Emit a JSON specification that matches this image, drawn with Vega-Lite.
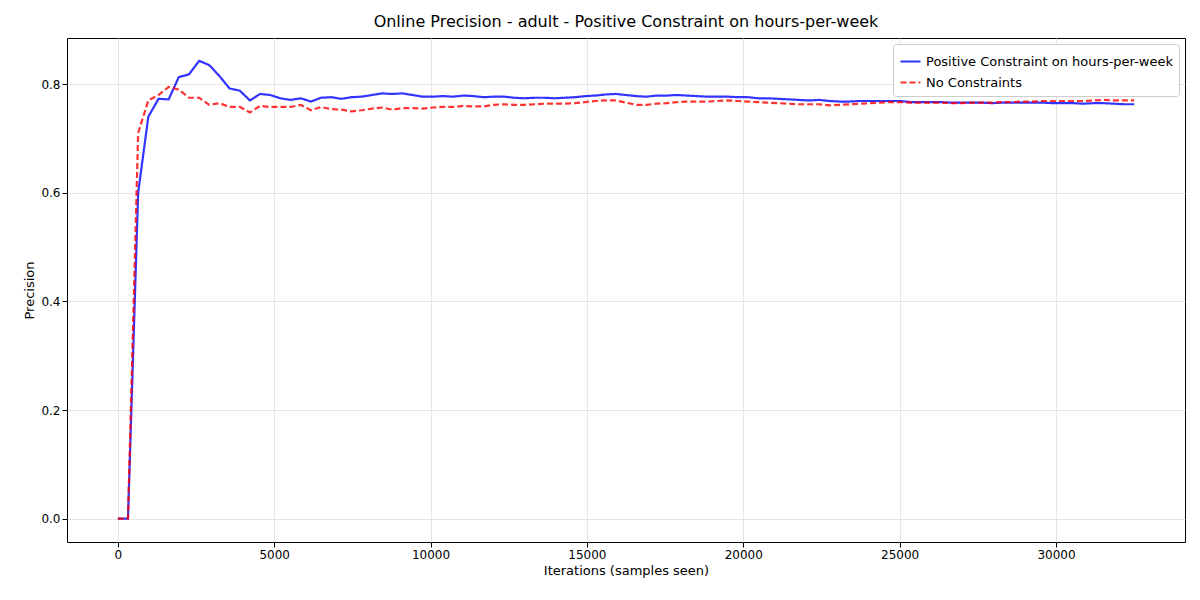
{
  "$schema": "https://vega.github.io/schema/vega-lite/v6.json",
  "autosize": "none",
  "padding": {"left": 67, "top": 38, "right": 15, "bottom": 58},
  "width": 1118,
  "height": 504,
  "title": {"text": "Online Precision - adult - Positive Constraint on hours-per-week", "fontSize": 16, "fontWeight": "normal", "font": "DejaVu Sans", "offset": 8},
  "data": {"values": [
    {"i":0,"b":0,"r":0},{"i":325,"b":0,"r":0},{"i":650,"b":0.6,"r":0.71},{"i":975,"b":0.74,"r":0.77},
    {"i":1300,"b":0.773,"r":0.78},{"i":1625,"b":0.772,"r":0.795},{"i":1950,"b":0.813,"r":0.79},{"i":2275,"b":0.818,"r":0.775},
    {"i":2600,"b":0.843,"r":0.775},{"i":2925,"b":0.835,"r":0.762},{"i":3250,"b":0.815,"r":0.765},{"i":3575,"b":0.792,"r":0.758},
    {"i":3900,"b":0.788,"r":0.758},{"i":4225,"b":0.77,"r":0.748},{"i":4550,"b":0.782,"r":0.76},{"i":4875,"b":0.78,"r":0.758},
    {"i":5200,"b":0.774,"r":0.758},{"i":5525,"b":0.771,"r":0.758},{"i":5850,"b":0.774,"r":0.762},{"i":6175,"b":0.768,"r":0.752},
    {"i":6500,"b":0.775,"r":0.758},{"i":6825,"b":0.776,"r":0.754},{"i":7150,"b":0.773,"r":0.753},{"i":7475,"b":0.776,"r":0.75},
    {"i":7800,"b":0.777,"r":0.752},{"i":8125,"b":0.78,"r":0.755},{"i":8450,"b":0.783,"r":0.757},{"i":8775,"b":0.782,"r":0.753},
    {"i":9100,"b":0.783,"r":0.756},{"i":9425,"b":0.78,"r":0.756},{"i":9750,"b":0.777,"r":0.755},{"i":10075,"b":0.777,"r":0.757},
    {"i":10400,"b":0.778,"r":0.758},{"i":10725,"b":0.777,"r":0.758},{"i":11050,"b":0.779,"r":0.76},{"i":11375,"b":0.778,"r":0.759},
    {"i":11700,"b":0.776,"r":0.759},{"i":12025,"b":0.777,"r":0.762},{"i":12350,"b":0.777,"r":0.763},{"i":12675,"b":0.775,"r":0.762},
    {"i":13000,"b":0.774,"r":0.762},{"i":13325,"b":0.775,"r":0.763},{"i":13650,"b":0.775,"r":0.764},{"i":13975,"b":0.774,"r":0.764},
    {"i":14300,"b":0.775,"r":0.764},{"i":14625,"b":0.776,"r":0.765},{"i":14950,"b":0.778,"r":0.767},{"i":15275,"b":0.779,"r":0.769},
    {"i":15600,"b":0.781,"r":0.77},{"i":15925,"b":0.782,"r":0.77},{"i":16250,"b":0.78,"r":0.766},{"i":16575,"b":0.778,"r":0.762},
    {"i":16900,"b":0.777,"r":0.762},{"i":17225,"b":0.779,"r":0.764},{"i":17550,"b":0.779,"r":0.765},{"i":17875,"b":0.78,"r":0.767},
    {"i":18200,"b":0.779,"r":0.768},{"i":18525,"b":0.778,"r":0.768},{"i":18850,"b":0.777,"r":0.768},{"i":19175,"b":0.777,"r":0.769},
    {"i":19500,"b":0.777,"r":0.77},{"i":19825,"b":0.776,"r":0.769},{"i":20150,"b":0.776,"r":0.768},{"i":20475,"b":0.774,"r":0.767},
    {"i":20800,"b":0.774,"r":0.766},{"i":21125,"b":0.773,"r":0.765},{"i":21450,"b":0.772,"r":0.764},{"i":21775,"b":0.771,"r":0.763},
    {"i":22100,"b":0.77,"r":0.763},{"i":22425,"b":0.771,"r":0.763},{"i":22750,"b":0.769,"r":0.761},{"i":23075,"b":0.768,"r":0.762},
    {"i":23400,"b":0.768,"r":0.763},{"i":23725,"b":0.769,"r":0.764},{"i":24050,"b":0.769,"r":0.765},{"i":24375,"b":0.769,"r":0.766},
    {"i":24700,"b":0.769,"r":0.767},{"i":25025,"b":0.769,"r":0.767},{"i":25350,"b":0.767,"r":0.766},{"i":25675,"b":0.767,"r":0.766},
    {"i":26000,"b":0.767,"r":0.766},{"i":26325,"b":0.767,"r":0.766},{"i":26650,"b":0.766,"r":0.765},{"i":26975,"b":0.766,"r":0.765},
    {"i":27300,"b":0.766,"r":0.766},{"i":27625,"b":0.766,"r":0.766},{"i":27950,"b":0.765,"r":0.766},{"i":28275,"b":0.766,"r":0.767},
    {"i":28600,"b":0.766,"r":0.767},{"i":28925,"b":0.766,"r":0.768},{"i":29250,"b":0.766,"r":0.768},{"i":29575,"b":0.766,"r":0.769},
    {"i":29900,"b":0.765,"r":0.769},{"i":30225,"b":0.765,"r":0.769},{"i":30550,"b":0.765,"r":0.769},{"i":30875,"b":0.764,"r":0.769},
    {"i":31200,"b":0.765,"r":0.77},{"i":31525,"b":0.765,"r":0.771},{"i":31850,"b":0.764,"r":0.77},{"i":32175,"b":0.763,"r":0.77},
    {"i":32500,"b":0.763,"r":0.77}
  ]},
  "encoding": {
    "x": {"field": "i", "type": "quantitative", "title": "Iterations (samples seen)", "scale": {"domain": [-1625, 34125], "nice": false, "zero": false},
      "axis": {"values": [0,5000,10000,15000,20000,25000,30000], "format": "d"}}
  },
  "layer": [
    {
      "mark": {"type": "line", "strokeWidth": 2.2, "opacity": 0.8},
      "encoding": {
        "y": {"field": "b", "type": "quantitative", "title": "Precision", "scale": {"domain": [-0.043, 0.885], "nice": false},
          "axis": {"values": [0,0.2,0.4,0.6,0.8], "format": ".1f"}},
        "color": {"datum": "Positive Constraint on hours-per-week", "type": "nominal",
          "scale": {"domain": ["Positive Constraint on hours-per-week", "No Constraints"], "range": ["#0000ff", "#ff0000"]},
          "legend": {"orient": "top-right", "title": null, "labelFontSize": 13, "symbolType": "stroke", "symbolSize": 400, "symbolStrokeWidth": 2.2, "fillColor": "white", "strokeColor": "#cccccc", "padding": 6, "cornerRadius": 3, "labelLimit": 400, "offset": 6}},
        "strokeDash": {"datum": "Positive Constraint on hours-per-week", "type": "nominal",
          "scale": {"domain": ["Positive Constraint on hours-per-week", "No Constraints"], "range": [[1, 0], [6, 3]]}}
      }
    },
    {
      "mark": {"type": "line", "strokeWidth": 2.2, "opacity": 0.8},
      "encoding": {
        "y": {"field": "r", "type": "quantitative"},
        "color": {"datum": "No Constraints", "type": "nominal"},
        "strokeDash": {"datum": "No Constraints", "type": "nominal"}
      }
    }
  ],
  "config": {
    "font": "DejaVu Sans",
    "view": {"stroke": "black"},
    "axis": {"grid": true, "gridColor": "#e5e5e5", "labelFontSize": 12, "titleFontSize": 13, "titleFontWeight": "normal", "labelColor": "black", "titleColor": "black", "domain": false, "tickColor": "black"}
  }
}
